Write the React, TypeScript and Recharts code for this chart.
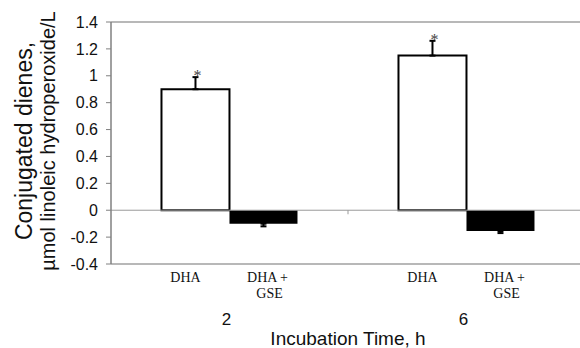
import {
  BarChart,
  Bar,
  XAxis,
  YAxis,
  ErrorBar,
  LabelList,
  Label,
  ReferenceLine,
} from "recharts";

const times = ["2", "6"];
const dha = [0.9, 1.15];
const dhaErr = [0.09, 0.11];
const gse = [-0.1, -0.155];
const gseErr = [0.02, 0.015];
const significant = [true, true];
const groupLabels = [["DHA"], ["DHA +", "GSE"]];
const yTicks = [-0.4, -0.2, 0, 0.2, 0.4, 0.6, 0.8, 1, 1.2, 1.4];
const yTitle = ["Conjugated dienes,", "µmol linoleic hydroperoxide/L"];
const xTitle = "Incubation Time, h";

const data = times.map((t, i) => ({
  time: t,
  dha: dha[i],
  dhaErr: [0, dhaErr[i]],
  gse: gse[i],
  gseErr: [gseErr[i], 0],
}));

const sans = "'Liberation Sans', Arial, sans-serif";
const serif = "'Liberation Serif', 'Times New Roman', serif";

function TimeTick(props: any) {
  const { x, y, payload } = props;
  return (
    <g fontFamily={serif} fontSize={14} fill="#111">
      <text x={x - 44} y={y + 18} textAnchor="middle">{groupLabels[0][0]}</text>
      <text x={x + 38} y={y + 18} textAnchor="middle">{groupLabels[1][0]}</text>
      <text x={x + 40} y={y + 34} textAnchor="middle">{groupLabels[1][1]}</text>
      <text x={x - 3} y={y + 61} textAnchor="middle" fontFamily={sans} fontSize={17}>
        {payload.value}
      </text>
    </g>
  );
}

function YTitle(props: any) {
  const vb = props.viewBox || { x: 0, y: 22, width: 111, height: 242 };
  const cy = vb.y + vb.height / 2 - 2;
  return (
    <g fontFamily={sans} fill="#111" textAnchor="middle">
      <text x={32} y={cy} fontSize={23} transform={`rotate(-90 32 ${cy})`}>{yTitle[0]}</text>
      <text x={55} y={cy} fontSize={20} transform={`rotate(-90 55 ${cy})`}>{yTitle[1]}</text>
    </g>
  );
}

function Star(props: any) {
  const { x, y, width, height, value, index } = props;
  if (!significant[index]) return null;
  const errPx = (height * dhaErr[index]) / value;
  return (
    <text x={x + width / 2 + 2} y={y - errPx + 4} textAnchor="middle" fontFamily={serif} fontSize={16} fill="#444">
      *
    </text>
  );
}

export default function App() {
  return (
    <div style={{ position: "fixed", left: 0, top: 0, width: 580, height: 348, overflow: "hidden", background: "#fff" }}>
      <BarChart
        width={590}
        height={348}
        data={data}
        margin={{ top: 22, right: 5, bottom: 0, left: 0 }}
        barCategoryGap="21.3%"
        barGap={0}
      >
        <XAxis
          dataKey="time"
          height={84}
          tick={<TimeTick />}
          tickLine={false}
          tickSize={0}
          tickMargin={0}
          axisLine={{ stroke: "#a0a0a0", strokeWidth: 1.5 }}
        >
          <Label value={xTitle} position="insideBottom" offset={3} fontFamily={sans} fontSize={19} fill="#111" />
        </XAxis>
        <YAxis
          width={111}
          domain={[-0.4, 1.4]}
          ticks={yTicks}
          interval={0}
          tickFormatter={(v: number) => String(v)}
          tick={{ fontFamily: sans, fontSize: 16, fill: "#111" }}
          tickSize={5}
          tickMargin={8}
          tickLine={{ stroke: "#808080" }}
          axisLine={{ stroke: "#808080", strokeWidth: 1.5 }}
        >
          <Label content={<YTitle />} />
        </YAxis>
        <ReferenceLine y={1.4} stroke="#a0a0a0" strokeWidth={1.5} />
        <ReferenceLine y={0} stroke="#999" />
        <ReferenceLine
          segment={[{ x: times[0], y: 0 }, { x: times[0], y: -0.03 }]}
          position="end"
          stroke="#999"
        />
        <Bar dataKey="dha" fill="#fff" stroke="#000" strokeWidth={2} isAnimationActive={false}>
          <ErrorBar dataKey="dhaErr" width={3} stroke="#000" strokeWidth={2} />
          <LabelList dataKey="dha" content={<Star />} />
        </Bar>
        <Bar dataKey="gse" fill="#000" isAnimationActive={false}>
          <ErrorBar dataKey="gseErr" width={3} stroke="#000" strokeWidth={2} />
        </Bar>
      </BarChart>
    </div>
  );
}
